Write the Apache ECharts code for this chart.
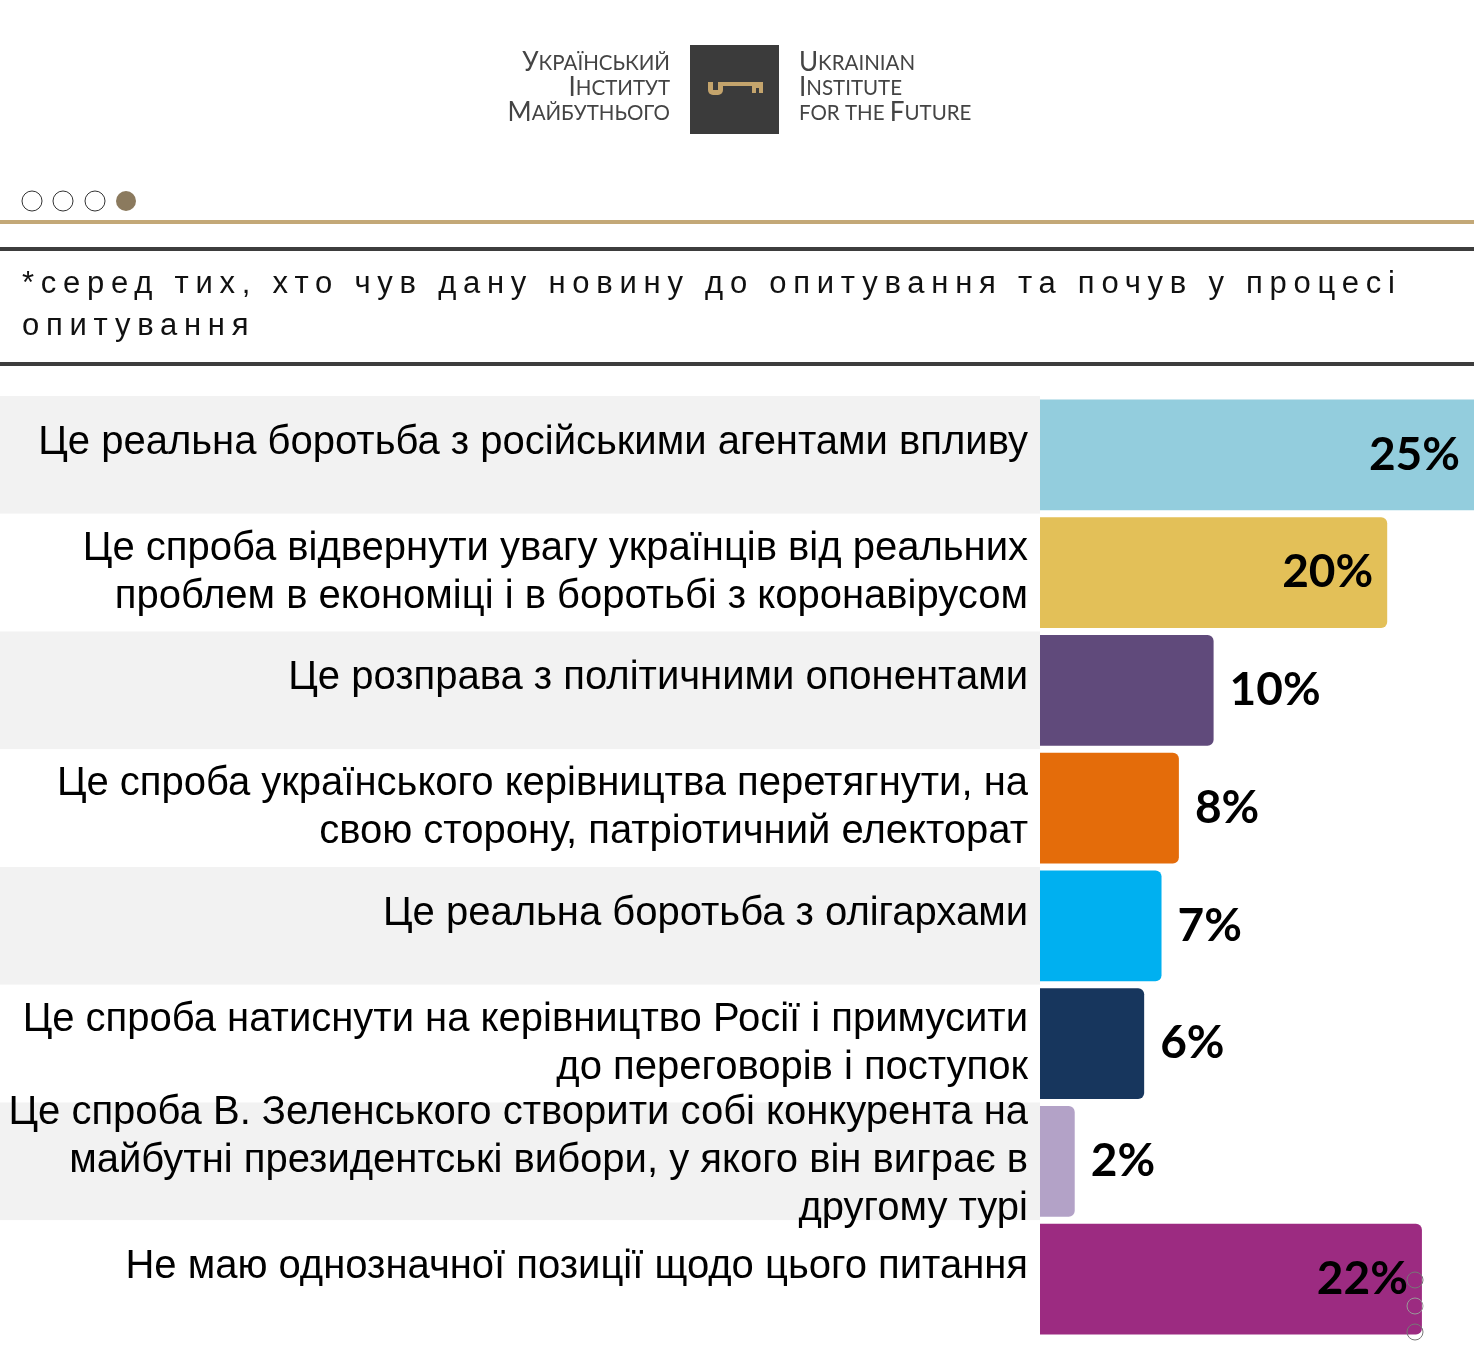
<!DOCTYPE html>
<html>
<head>
<meta charset="utf-8">
<script src="https://cdn.jsdelivr.net/npm/echarts@6/dist/echarts.min.js"></script>
<style>
  body { margin: 0; background: #fff; }
  #wrap { position: relative; width: 1474px; height: 1368px; }
  #main { width: 1474px; height: 1368px; }
  #note {
    position: absolute; left: 22px; top: 262px;
    font-family: "Liberation Sans", Arial, sans-serif;
    font-size: 31px; line-height: 42px; letter-spacing: 6.75px;
    color: #111; white-space: nowrap;
  }
</style>
</head>
<body>
<div id="wrap">
  <div id="main"></div>
  <div id="note">*серед тих, хто чув дану новину до опитування та почув у процесі<br>опитування</div>
</div>
<script>
// варіанти відповідей
var categories = [
  'Це реальна боротьба з російськими агентами впливу',
  'Це спроба відвернути увагу українців від реальних\nпроблем в економіці і в боротьбі з коронавірусом',
  'Це розправа з політичними опонентами',
  'Це спроба українського керівництва перетягнути, на\nсвою сторону, патріотичний електорат',
  'Це реальна боротьба з олігархами',
  'Це спроба натиснути на керівництво Росії і примусити\nдо переговорів і поступок',
  'Це спроба В. Зеленського створити собі конкурента на\nмайбутні президентські вибори, у якого він виграє в\nдругому турі',
  'Не маю однозначної позиції щодо цього питання'
];
// частка відповідей, %
var values = [25, 20, 10, 8, 7, 6, 2, 22];
var barColors = ['#93cddd', '#e3c058', '#604a7b', '#e46c0a', '#00b0f0', '#17365d', '#b3a2c7', '#9c2b81'];

(function() {
  var myChart = echarts.init(document.getElementById('main'));

  var gold = '#c4a46c';
  var dark = '#3d3d3d';

  var option = {
    backgroundColor: '#fff',
    animation: false,
    grid: [
      { left: 1040, right: 0, top: 396, bottom: 30 },   // смуги
      { left: 0, width: 1040, top: 396, bottom: 30 }    // сірий фон рядків
    ],
    xAxis: [
      { type: 'value', min: 0, max: 25, show: false, gridIndex: 0 },
      { type: 'value', min: 0, max: 1, show: false, gridIndex: 1 }
    ],
    yAxis: [
      {
        type: 'category',
        gridIndex: 0,
        inverse: true,
        data: categories,
        z: 3,
        axisLine: { show: false },
        axisTick: { show: false },
        axisLabel: {
          margin: 12,
          color: '#000',
          fontFamily: 'Liberation Sans',
          fontSize: 40,
          lineHeight: 48,
          align: 'right',
          // однорядкові підписи трохи вище центру рядка
          formatter: function(v) {
            return v.indexOf('\n') < 0 ? '{s|' + v + '}' : v;
          },
          rich: {
            s: {
              fontFamily: 'Liberation Sans',
              fontSize: 40,
              lineHeight: 48,
              color: '#000',
              padding: [0, 0, 24, 0]
            }
          }
        }
      },
      {
        type: 'category',
        gridIndex: 1,
        inverse: true,
        data: categories,
        z: -1,
        axisLine: { show: false },
        axisTick: { show: false },
        axisLabel: { show: false },
        splitLine: { show: false },
        splitArea: {
          show: true,
          areaStyle: { color: ['#f2f2f2', '#ffffff'] }
        }
      }
    ],
    series: [{
      type: 'bar',
      xAxisIndex: 0,
      yAxisIndex: 0,
      barCategoryGap: '6%',
      data: values.map(function(v, i) {
        var inside = v >= 20;
        return {
          value: v,
          itemStyle: {
            color: barColors[i],
            borderRadius: v === 25 ? 0 : [0, 6, 6, 0]
          },
          label: {
            position: inside ? 'insideRight' : 'right',
            distance: inside ? 14 : 16
          }
        };
      }),
      label: {
        show: true,
        formatter: '{c}%',
        color: '#000',
        fontFamily: 'Lato',
        fontWeight: 'bold',
        fontSize: 46
      }
    }],
    graphic: [
      // логотип
      {
        type: 'text', x: 670, y: 88,
        style: {
          text: '{a|У}{b|КРАЇНСЬКИЙ}\n{a|І}{b|НСТИТУТ}\n{a|М}{b|АЙБУТНЬОГО}',
          align: 'right', verticalAlign: 'middle',
          fill: '#444',
          rich: {
            a: { fontFamily: 'Lato', fontSize: 26, lineHeight: 25, fill: '#444' },
            b: { fontFamily: 'Lato', fontSize: 20.5, lineHeight: 25, fill: '#444' }
          }
        }
      },
      {
        type: 'text', x: 799, y: 88,
        style: {
          text: '{a|U}{b|KRAINIAN}\n{a|I}{b|NSTITUTE}\n{b|FOR THE }{a|F}{b|UTURE}',
          align: 'left', verticalAlign: 'middle',
          fill: '#444',
          rich: {
            a: { fontFamily: 'Lato', fontSize: 26, lineHeight: 25, fill: '#444' },
            b: { fontFamily: 'Lato', fontSize: 20.5, lineHeight: 25, fill: '#444' }
          }
        }
      },
      { type: 'rect', shape: { x: 690, y: 45, width: 89, height: 89 }, style: { fill: '#3b3b3b' } },
      { type: 'rect', shape: { x: 708, y: 82, width: 15, height: 13, r: [0, 0, 5, 5] }, style: { fill: gold } },
      { type: 'rect', shape: { x: 713, y: 82, width: 5, height: 8 }, style: { fill: '#3b3b3b' } },
      { type: 'rect', shape: { x: 722, y: 82, width: 41, height: 4 }, style: { fill: gold } },
      { type: 'rect', shape: { x: 752, y: 82, width: 11, height: 11 }, style: { fill: gold } },
      { type: 'rect', shape: { x: 756, y: 88, width: 3, height: 5 }, style: { fill: '#3b3b3b' } },
      // кружечки-навігація
      { type: 'circle', shape: { cx: 32, cy: 201, r: 10 }, style: { fill: '#fff', stroke: '#333', lineWidth: 1 } },
      { type: 'circle', shape: { cx: 63, cy: 201, r: 10 }, style: { fill: '#fff', stroke: '#333', lineWidth: 1 } },
      { type: 'circle', shape: { cx: 95, cy: 201, r: 10 }, style: { fill: '#fff', stroke: '#333', lineWidth: 1 } },
      { type: 'circle', shape: { cx: 126, cy: 201, r: 10 }, style: { fill: '#8b7a5e' } },
      // лінії
      { type: 'rect', shape: { x: 0, y: 220, width: 1474, height: 4 }, style: { fill: '#c3a877' } },
      { type: 'rect', shape: { x: 0, y: 247, width: 1474, height: 4 }, style: { fill: dark } },
      { type: 'rect', shape: { x: 0, y: 362, width: 1474, height: 4 }, style: { fill: dark } },
      // кружечки внизу
      { type: 'circle', z: 10, shape: { cx: 1415, cy: 1280, r: 8 }, style: { fill: 'transparent', stroke: '#777', lineWidth: 1 } },
      { type: 'circle', z: 10, shape: { cx: 1415, cy: 1306, r: 8 }, style: { fill: 'transparent', stroke: '#999', lineWidth: 1 } },
      { type: 'circle', z: 10, shape: { cx: 1415, cy: 1332, r: 8 }, style: { fill: 'transparent', stroke: '#777', lineWidth: 1 } }
    ]
  };

  myChart.setOption(option);
  window.addEventListener('resize', function() {
    myChart.resize();
  });
})();
</script>
</body>
</html>
